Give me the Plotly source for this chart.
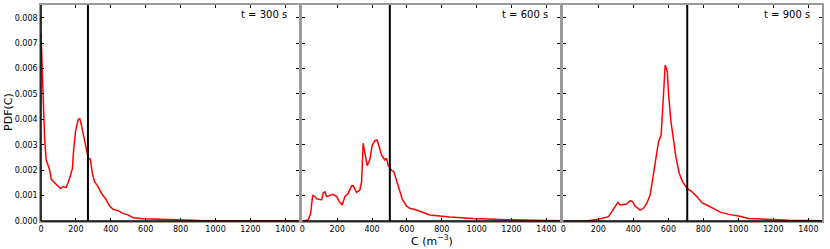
import plotly.graph_objects as go

# ---- data ----
c1 = [0, 11, 21, 30, 40, 50, 59, 78, 97, 111, 126, 145, 164, 180, 187, 199, 212, 222, 231, 250, 264, 271, 283, 294, 307, 327, 346, 374, 393, 413, 441, 470, 498, 527, 584, 642, 718, 814, 909, 1100, 1478]
p1 = [0.00738, 0.00476, 0.0032, 0.0024, 0.0022, 0.0020, 0.00164, 0.0015, 0.00135, 0.00128, 0.00135, 0.00132, 0.00168, 0.00207, 0.0028, 0.00358, 0.00397, 0.00404, 0.00378, 0.0032, 0.0028, 0.00247, 0.00243, 0.00188, 0.00155, 0.00135, 0.00109, 0.00083, 0.00059, 0.00046, 0.00041, 0.0003, 0.00024, 0.00013, 0.00009, 0.00008, 0.00005, 0.00003, 0.00002, 0.00001, 0.000005]

c2 = [0, 34, 48, 59, 73, 82, 101, 111, 120, 130, 139, 158, 177, 197, 212, 229, 244, 263, 282, 292, 311, 330, 340, 349, 359, 372, 387, 401, 416, 429, 441, 454, 473, 483, 492, 511, 525, 540, 559, 574, 597, 616, 655, 731, 845, 979, 1170, 1478]
p2 = [0, 0.00004, 0.0003, 0.001, 0.00096, 0.00087, 0.00085, 0.00083, 0.00111, 0.00115, 0.00096, 0.00102, 0.00105, 0.00096, 0.00076, 0.00063, 0.00096, 0.00109, 0.00138, 0.00139, 0.00113, 0.00122, 0.00155, 0.00306, 0.00266, 0.00218, 0.0024, 0.00298, 0.00316, 0.00319, 0.00292, 0.0026, 0.0024, 0.00247, 0.0022, 0.002, 0.00194, 0.00161, 0.00122, 0.00085, 0.00059, 0.0005, 0.00043, 0.00024, 0.00016, 0.0001, 0.00005, 0.00001]

c3 = [0, 143, 200, 258, 277, 296, 311, 324, 344, 363, 382, 395, 410, 439, 458, 477, 496, 515, 531, 544, 559, 567, 582, 594, 601, 615, 630, 643, 662, 681, 706, 735, 763, 792, 830, 868, 897, 945, 1002, 1059, 1135, 1288, 1478]
p3 = [0, 0.00001, 0.00007, 0.00017, 0.00037, 0.00056, 0.00073, 0.00063, 0.00066, 0.00067, 0.0008, 0.00076, 0.00059, 0.00043, 0.0005, 0.0007, 0.00102, 0.00181, 0.00253, 0.00312, 0.00338, 0.00437, 0.00614, 0.00588, 0.00502, 0.00391, 0.00319, 0.00253, 0.00188, 0.00155, 0.00129, 0.00115, 0.00096, 0.00072, 0.00059, 0.00047, 0.00035, 0.00026, 0.0002, 0.0001, 0.00007, 0.00003, 0.00001]

mean_c = [269, 502, 708]
labels = ["t = 300 s", "t = 600 s", "t = 900 s"]
x_ticks = [0, 200, 400, 600, 800, 1000, 1200, 1400]
y_ticks = [0.000, 0.001, 0.002, 0.003, 0.004, 0.005, 0.006, 0.007, 0.008]

curves = [(c1, p1), (c2, p2), (c3, p3)]
domains = [[0.0, 0.3303], [0.3346, 0.6645], [0.6688, 1.0]]
FONT = "DejaVu Sans"
YMAX = 0.0085
XMAX = 1478

fig = go.Figure()
shapes = []
annotations = []
for i, ((cx, py), vx, lab) in enumerate(zip(curves, mean_c, labels)):
    n = "" if i == 0 else str(i + 1)
    xa, ya = "x" + n, "y" + n
    fig.add_trace(go.Scatter(x=cx, y=py, mode="lines", xaxis=xa, yaxis=ya,
                             line=dict(color="#ff0000", width=1.5), showlegend=False))
    fig.add_trace(go.Scatter(x=[vx, vx], y=[0, YMAX], mode="lines", xaxis=xa, yaxis=ya,
                             line=dict(color="black", width=2), showlegend=False))
    common = dict(showline=True, linecolor="#9a9a9a", linewidth=1.5, mirror="ticks",
                  ticks="inside", ticklen=3, tickwidth=1, tickcolor="black",
                  showgrid=False, zeroline=False, automargin=False,
                  tickfont=dict(family=FONT, size=8, color="black"))
    fig.layout["xaxis" + n] = dict(domain=domains[i], range=[0, XMAX], anchor=ya,
                                   tickvals=x_ticks, **common)
    fig.layout["yaxis" + n] = dict(domain=[0, 1], range=[0, YMAX], anchor=xa,
                                   tickvals=y_ticks, tickformat=".3f",
                                   showticklabels=(i == 0), **common)
    # black bottom spine
    shapes.append(dict(type="line", xref=xa + " domain", yref=ya + " domain",
                       x0=0, x1=1, y0=0, y1=0, line=dict(color="black", width=1.5)))
    if i == 0:
        shapes.append(dict(type="line", xref=xa + " domain", yref=ya + " domain",
                           x0=0, x1=0, y0=0, y1=1, line=dict(color="black", width=1.5)))
    annotations.append(dict(text=lab, xref=xa + " domain", yref=ya + " domain",
                            x=0.961, y=0.957, xanchor="right", yanchor="middle",
                            showarrow=False, font=dict(family=FONT, size=10, color="black")))

annotations.append(dict(text="C (m<sup>−3</sup>)", xref="paper", yref="paper",
                        x=0.5, y=-0.045, xanchor="center", yanchor="top", showarrow=False,
                        font=dict(family=FONT, size=11, color="black")))
annotations.append(dict(text="PDF(C)", xref="paper", yref="paper", textangle=-90,
                        x=-0.041, y=0.505, xanchor="center", yanchor="middle", showarrow=False,
                        font=dict(family=FONT, size=11, color="black")))

fig.update_layout(width=830, height=249, margin=dict(l=41, r=8, t=5, b=28),
                  plot_bgcolor="white", paper_bgcolor="white",
                  shapes=shapes, annotations=annotations,
                  font=dict(family=FONT, size=8, color="black"))

fig.write_html("out.html", config={"displayModeBar": False},
               post_script="document.body.style.margin='0';document.body.style.overflow='hidden';")
